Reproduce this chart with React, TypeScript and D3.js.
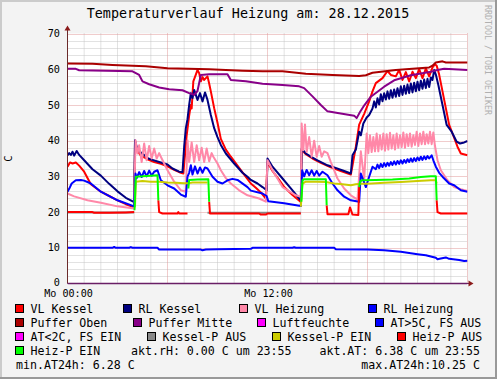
import React from 'react';
import * as d3 from 'd3';

type Pt = [number, number] | null;

// ---- DATA (hour of day, °C) ----
const vlKessel: Pt[] = [
  [0, 32.7], [0.15, 33.9], [0.3, 33.6], [0.5, 33.9], [0.7, 33.0], [1.0, 31.3], [1.4, 27.8], [2.0, 25.7],
  [2.5, 24.5], [3.0, 23.3], [3.5, 22.2], [4.0, 21.3], [4.05, 39.5], [4.15, 37.5], [4.4, 35.8], [4.8, 34.8],
  [5.2, 34.0], [5.6, 33.5], [6.0, 32.8], [6.4, 31.8], [6.8, 31.0], [6.95, 30.8], [7.05, 36], [7.15, 41.5],
  [7.3, 47], [7.4, 50], [7.45, 49], [7.55, 56.6], [7.7, 58.5], [7.8, 59.8], [7.9, 58.9], [8.0, 56.6],
  [8.1, 57.8], [8.2, 57.0], [8.3, 57.5], [8.4, 58.0], [8.5, 56], [8.6, 53.8], [8.8, 49.1], [9.0, 45],
  [9.2, 40.5], [9.5, 37.5], [9.8, 35.5], [10.2, 33.0], [10.6, 30.5], [11.0, 28.0], [11.3, 26.8], [11.6, 25.5],
  [11.9, 23.8], [12.0, 34.0], [12.3, 31.5], [12.7, 29.0], [13.0, 27.0], [13.5, 24.8], [14.0, 22.8],
  [14.05, 37.5], [14.3, 36.2], [14.7, 35.0], [15.2, 33.8], [15.8, 32.5], [16.4, 31.5], [17.0, 30.5],
  [17.1, 33], [17.3, 38.3], [17.5, 44.5], [17.8, 47.5], [18.1, 51.0], [18.3, 53.8], [18.5, 56.1],
  [18.9, 57.5], [19.2, 59.5], [19.4, 58.4], [19.7, 58.0], [19.9, 59.8], [20.1, 57.0], [20.3, 59.2],
  [20.5, 56.6], [20.7, 59.3], [20.9, 57.5], [21.1, 60], [21.3, 57.5], [21.5, 60.2], [21.7, 58],
  [21.9, 60.5], [22.05, 61.4], [22.15, 61.0], [22.3, 58.5], [22.5, 53.8], [22.7, 49.1], [22.9, 44.4],
  [23.1, 42.0], [23.4, 38.3], [23.6, 36.4], [24.0, 35.9],
];

const rlKessel: Pt[] = [
  [0, 35.9], [0.1, 36.5], [0.2, 36.0], [0.3, 36.9], [0.4, 35.8], [0.55, 37.1], [0.7, 36.0], [1.0, 34.5],
  [1.5, 32.0], [2.0, 30.2], [2.5, 27.9], [3.0, 25.8], [3.5, 24.0], [4.0, 22.8], [4.05, 40.1], [4.15, 38.3],
  [4.3, 37.2], [4.45, 36.4], [4.6, 36.0], [4.85, 35.0], [5.1, 34.6], [5.5, 34.0], [6.0, 33.3], [6.3, 32.2],
  [6.7, 31.3], [6.9, 31.2], [7.0, 38.3], [7.1, 43.5], [7.2, 46], [7.3, 50.0], [7.4, 53.3], [7.5, 51.9],
  [7.6, 54.2], [7.8, 51.4], [7.95, 53.3], [8.1, 51.0], [8.25, 53.5], [8.4, 51.4], [8.6, 47.2], [8.8, 43.5],
  [9.0, 41.0], [9.2, 38.8], [9.5, 36.4], [10.0, 33.6], [10.5, 31.0], [10.8, 29.9], [11.0, 29.0],
  [11.4, 28.0], [11.7, 27.0], [11.95, 26.1], [12.0, 35.0], [12.3, 32.7], [12.9, 29.4], [13.5, 26.1],
  [13.9, 23.8], [14.0, 23.3], [14.05, 37.8], [14.3, 36.4], [14.6, 35.5], [15.0, 34.5], [15.6, 33.1],
  [16.0, 32.5], [16.6, 31.5], [17.0, 30.8], [17.1, 35.9], [17.3, 37.5], [17.5, 42.5], [17.6, 41.5],
  [17.75, 44.8], [17.95, 46.5], [18.1, 47.2], [18.3, 49.0], [18.4, 51.0], [18.5, 49.3], [18.6, 51.9],
  [18.7, 50.1], [18.8, 53.0], [18.9, 51.0], [19.0, 53.3], [19.1, 51.5], [19.2, 53.8], [19.3, 51.7],
  [19.4, 54.1], [19.5, 52.0], [19.6, 54.3], [19.7, 52.3], [19.8, 54.7], [19.9, 52.5], [20.0, 55.2],
  [20.1, 52.8], [20.2, 55.4], [20.3, 53.1], [20.4, 55.7], [20.5, 53.3], [20.6, 56.0], [20.7, 53.5],
  [20.8, 56.2], [20.9, 53.8], [21.0, 56.5], [21.1, 54.1], [21.2, 56.8], [21.3, 54.5], [21.4, 57.1],
  [21.5, 54.7], [21.6, 57.3], [21.7, 55.0], [21.8, 57.7], [21.9, 57.0], [22.0, 59.8], [22.1, 58.5],
  [22.25, 55.6], [22.5, 50.0], [22.75, 44.4], [23.05, 42.5], [23.35, 39.7], [23.55, 39.2], [23.8, 39.5],
  [24.0, 39.9],
];

const vlHeizung: Pt[] = [
  [0, 25.2], [0.4, 24.4], [1.2, 23.3], [2.0, 22.6], [3.0, 21.6], [4.0, 21.0], [4.08, 40.1], [4.2, 36.4],
  [4.3, 38.7], [4.45, 34.0], [4.6, 39.2], [4.75, 34.5], [4.9, 38.5], [5.05, 35.0], [5.2, 37.8], [5.35, 35.0],
  [5.5, 36.5], [5.6, 35.5], [6.0, 31.7], [6.4, 28.5], [6.8, 26.1], [7.1, 25.7], [7.2, 40.1], [7.3, 34.0],
  [7.45, 39.5], [7.6, 34.0], [7.75, 38.7], [7.9, 34.5], [8.05, 38.0], [8.2, 34.0], [8.35, 37.8], [8.5, 34.2],
  [8.65, 36.5], [8.75, 35.5], [9.0, 33.6], [9.2, 31.7], [9.5, 29.5], [9.8, 28.0], [10.3, 26.1],
  [10.8, 24.7], [11.5, 23.8], [11.9, 22.9], [12.0, 34.5], [12.3, 31.7], [12.9, 27.0], [13.7, 24.7],
  [14.0, 24.3], [14.05, 44.8], [14.15, 37.3], [14.25, 44.5], [14.35, 36.8], [14.5, 41.0], [14.65, 35.5],
  [14.8, 40.0], [14.95, 35.5], [15.1, 38.5], [15.25, 35.5], [15.4, 37.0], [15.6, 36.5], [15.8, 34.0],
  [16.2, 29.4], [16.6, 26.6], [17.0, 24.7], [17.4, 23.5], [17.6, 37.0], [17.8, 29.0], [17.95, 42.0],
  [18.05, 36.5], [18.15, 41.5], [18.25, 36.8], [18.35, 41.0], [18.45, 37.0], [18.55, 42.0], [18.65, 37.0],
  [18.75, 41.5], [18.85, 37.5], [18.95, 42.0], [19.05, 37.2], [19.15, 41.8], [19.25, 37.5], [19.35, 42.2],
  [19.45, 37.8], [19.55, 41.5], [19.65, 37.5], [19.75, 42.0], [19.85, 38.0], [19.95, 41.5], [20.05, 38.2],
  [20.15, 42.3], [20.25, 38.0], [20.35, 41.8], [20.45, 38.5], [20.55, 42.0], [20.65, 38.3], [20.75, 41.5],
  [20.85, 38.8], [20.95, 42.5], [21.05, 38.5], [21.15, 42.0], [21.25, 39.0], [21.35, 42.5], [21.45, 39.0],
  [21.55, 41.8], [21.65, 39.2], [21.75, 42.5], [21.85, 39.0], [21.95, 42.3], [22.05, 38.5], [22.2, 34.5],
  [22.4, 31.7], [22.8, 28.9], [23.2, 27.0], [23.6, 26.4], [24.0, 25.9],
];

const rlHeizung: Pt[] = [
  [0, 25.7], [0.1, 26.5], [0.25, 28.0], [0.5, 28.9], [0.8, 29.0], [1.0, 28.8], [1.4, 28.0], [2.0, 25.7],
  [3.0, 23.3], [4.0, 21.6], [4.08, 30.8], [4.15, 29.5], [4.3, 31.2], [4.45, 29.8], [4.6, 31.5], [4.75, 30.0],
  [4.9, 31.6], [5.05, 30.2], [5.2, 31.3], [5.4, 31.7], [5.6, 28.9], [6.0, 27.5], [6.4, 26.6], [6.8, 24.9],
  [7.1, 24.3], [7.2, 29.9], [7.3, 31.0], [7.4, 33.1], [7.5, 30.5], [7.65, 32.8], [7.8, 30.8], [7.95, 32.5],
  [8.1, 31.0], [8.25, 32.5], [8.4, 32.2], [8.7, 29.9], [9.0, 28.5], [9.3, 28.0], [9.6, 28.9], [9.9, 29.3],
  [10.2, 29.0], [10.8, 27.0], [11.0, 26.0], [11.7, 25.2], [11.95, 24.5], [12.05, 23.0], [13.0, 22.5],
  [14.0, 21.7], [14.08, 31.7], [14.2, 30.0], [14.35, 31.8], [14.5, 30.3], [14.65, 31.7], [14.8, 30.2],
  [14.95, 31.5], [15.1, 30.2], [15.3, 31.3], [15.6, 30.3], [15.9, 28.0], [16.2, 26.1], [16.6, 24.3],
  [17.0, 23.3], [17.5, 22.9], [17.6, 30.8], [17.9, 27.0], [18.1, 29.9], [18.3, 32.7], [18.5, 32.0],
  [18.6, 33.3], [18.7, 32.3], [18.8, 33.5], [18.9, 32.6], [19.0, 33.7], [19.1, 32.8], [19.2, 33.8],
  [19.3, 33.0], [19.4, 34.0], [19.5, 33.2], [19.6, 34.2], [19.7, 33.3], [19.8, 34.3], [19.9, 33.5],
  [20.0, 34.5], [20.1, 33.6], [20.2, 34.6], [20.3, 33.8], [20.4, 34.8], [20.5, 34.0], [20.6, 35.0],
  [20.7, 34.1], [20.8, 35.1], [20.9, 34.3], [21.0, 35.3], [21.1, 34.5], [21.2, 35.5], [21.3, 34.6],
  [21.4, 35.6], [21.5, 34.8], [21.6, 35.7], [21.7, 35.0], [21.85, 35.9], [21.95, 34.5], [22.1, 32.7],
  [22.3, 31.0], [22.5, 29.9], [22.9, 28.0], [23.2, 27.5], [23.6, 26.1], [24.0, 25.7],
];

const pufferOben: Pt[] = [
  [0, 61.6], [1.5, 61.5], [2.7, 61.2], [4.7, 60.8], [6.0, 60.3], [8.5, 60.0], [10.5, 59.6], [11.7, 59.4],
  [12.9, 59.4], [14.3, 58.7], [15.9, 58.4], [17.5, 58.1], [17.9, 58.3], [18.3, 59.0], [19.7, 59.8],
  [21.7, 60.5], [21.9, 61.0], [22.1, 61.9], [22.5, 62.2], [22.7, 61.9], [24, 61.9],
];

const pufferMitte: Pt[] = [
  [0, 60.1], [0.5, 60.1], [0.7, 59.7], [3.9, 59.4], [4.3, 58.4], [4.5, 56.6], [4.9, 55.8], [5.5, 54.9],
  [6.1, 54.4], [6.9, 54.1], [7.3, 53.3], [7.6, 52.8], [7.8, 53.9], [8.0, 58.4], [8.5, 58.6], [9.6, 58.6],
  [9.8, 57.0], [10.7, 56.6], [11.7, 55.9], [12.9, 55.6], [13.9, 55.2], [14.2, 54.7], [14.7, 52.4],
  [15.2, 50.0], [15.6, 48.2], [16.3, 47.7], [17.2, 47.0], [17.35, 46.3], [17.55, 48.0], [17.75, 49.5],
  [18.2, 52.3], [19.0, 55.1], [19.6, 56.9], [20.6, 58.3], [21.8, 59.3], [22.2, 59.8], [22.6, 60.1],
  [24, 59.8],
];

const aussenTemp: Pt[] = [
  [0, 10.0], [2.7, 10.0], [2.8, 10.25], [2.9, 10.0], [3.7, 10.0], [3.8, 10.2], [3.9, 10.0], [5.4, 10.0],
  [5.5, 9.5], [8.0, 9.5], [8.1, 9.3], [8.3, 9.5], [9.0, 9.6], [11.0, 9.7], [11.1, 10.0], [13.5, 10.0],
  [13.6, 10.15], [13.7, 10.0], [16.0, 10.0], [16.1, 9.6], [18.0, 9.5], [19.0, 9.3], [20.0, 8.9],
  [21.0, 8.2], [21.5, 7.9], [22.1, 7.2], [22.2, 6.8], [22.4, 7.0], [22.7, 7.3], [22.9, 6.9], [23.5, 6.6],
  [23.8, 6.3], [24, 6.4],
];

const luftfeuchte: Pt[] = [[0, 0], [24, 0]];

const kesselPAus: Pt[] = [
  [0, 19.9], [4.0, 19.9], null, [8.4, 19.8], [14.0, 19.8],
];

const kesselPEin: Pt[] = [
  [4.05, 21.5], [4.1, 28.5], [4.5, 28.7], [5.0, 28.5], [5.5, 28.5], [6.0, 28.3], [6.5, 28.2], [7.0, 28.1],
  [7.3, 28.1], [7.5, 28.3], [8.0, 28.3], [8.4, 28.3], null,
  [14.0, 21.5], [14.1, 28.0], [14.3, 28.5], [15.0, 28.5], [15.5, 28.4], [16.0, 28.0], [16.5, 27.8],
  [17.0, 27.5], [17.3, 27.8], [17.6, 27.9], [18.0, 27.9], [19.0, 28.2], [20.0, 28.4], [21.0, 28.7],
  [21.8, 28.9], [22.1, 28.9], [22.15, 28.0],
];

const heizPAus: Pt[] = [
  [0, 20.0], [1.5, 20.0], [1.6, 19.8], [2.5, 19.8], [3.5, 19.9], [4.0, 20.0], null,
  [5.45, 23.3], [5.5, 20.0], [5.7, 19.6], [6.6, 19.6], [6.65, 20.0], [6.7, 19.6], [7.2, 19.6], null,
  [8.5, 22.9], [8.55, 19.6], [11.5, 19.6], [11.6, 19.3], [11.9, 19.3], [12.0, 19.6], [14.0, 19.6], null,
  [15.55, 21.9], [15.6, 19.4], [16.85, 19.4], [16.95, 21.3], [17.1, 19.3], [17.45, 19.2], [17.5, 27.0], null,
  [22.15, 23.3], [22.2, 20.0], [22.4, 19.6], [24, 19.6],
];

const heizPEin: Pt[] = [
  [4.02, 20.5], [4.1, 29.9], [4.5, 30.0], [5.0, 30.2], [5.4, 30.3], [5.45, 23.3], null,
  [7.25, 26.6], [7.3, 29.0], [7.8, 29.1], [8.45, 29.2], [8.5, 22.9], null,
  [14.03, 22.9], [14.1, 28.9], [14.2, 29.2], [15.5, 29.2], [15.55, 21.9], null,
  [17.5, 27.0], [17.55, 28.5], [17.65, 28.9], [18.5, 29.0], [19.5, 29.1], [20.5, 29.4], [21.2, 29.8],
  [21.8, 30.0], [22.1, 30.0], [22.15, 23.3],
];

const yTicks = [0, 10, 20, 30, 40, 50, 60, 70];
const xLabelHours = [0, 12];
const xLabelTexts = ['Mo 00:00', 'Mo 12:00'];

const legendNames = [
  'VL Kessel', 'RL Kessel', 'VL Heizung', 'RL Heizung',
  'Puffer Oben', 'Puffer Mitte', 'Luftfeuchte', 'AT>5C, FS AUS',
  'AT<2C, FS EIN', 'Kessel-P AUS', 'Kessel-P EIN', 'Heiz-P AUS',
  'Heiz-P EIN',
];
const legendColors = [
  '#FF0000', '#000080', '#FF88A8', '#0000FF',
  '#AA0000', '#880088', '#FF00FF', '#0000FF',
  '#FF00FF', '#888888', '#CCCC00', '#FF0000',
  '#00FF00',
];
const legendX = [
  15, 123, 239, 368,
  15, 133, 257, 375,
  15, 147, 272, 397,
  15,
];
const legendRow = [0, 0, 0, 0, 1, 1, 1, 1, 2, 2, 2, 2, 3];

const title = 'Temperaturverlauf Heizung am: 28.12.2015';
const statusTexts = ['akt.rH: 0.00 C um 23:55', 'akt.AT: 6.38 C um 23:55', 'min.AT24h: 6.28 C', 'max.AT24h:10.25 C'];

// draw order = rrdtool order
const seriesOrder: { data: Pt[]; color: string }[] = [
  { data: vlKessel, color: '#FF0000' },
  { data: rlKessel, color: '#000080' },
  { data: vlHeizung, color: '#FF88A8' },
  { data: rlHeizung, color: '#0000FF' },
  { data: pufferOben, color: '#AA0000' },
  { data: pufferMitte, color: '#880088' },
  { data: aussenTemp, color: '#0000FF' },
  { data: kesselPAus, color: '#888888' },
  { data: kesselPEin, color: '#CCCC00' },
  { data: heizPAus, color: '#FF0000' },
  { data: heizPEin, color: '#00FF00' },
];

const W = 497;
const H = 379;
const PL = 67.5, PR = 467.5, PT = 33.5, PB = 283.5;
const MONO = '"DejaVu Sans Mono", monospace';

export default function App() {
  const xs = d3.scaleLinear().domain([0, 24]).range([PL, PR]);
  const ys = d3.scaleLinear().domain([0, 70]).range([PB, PT]);
  const line = d3
    .line<Pt>()
    .defined((d) => d !== null)
    .x((d) => xs((d as [number, number])[0]))
    .y((d) => ys((d as [number, number])[1]));

  const minorH = d3.range(0, 71, 2).filter((v) => v % 10 !== 0);
  const majorH = d3.range(10, 71, 10);
  const minorV = d3.range(1, 24).filter((h) => h % 6 !== 0);
  const majorV = [6, 12, 18, 24];
  const rowY = [309, 323, 337, 351, 365];

  return (
    <div style={{ position: 'absolute', left: 0, top: 0 }}>
      <svg width={W} height={H} style={{ display: 'block' }}>
        <rect x={0} y={0} width={W} height={H} fill="#F3F3F3" />
        <line x1={0} y1={1} x2={W} y2={1} stroke="#CBCBCB" strokeWidth={2} />
        <line x1={1} y1={0} x2={1} y2={H} stroke="#CBCBCB" strokeWidth={2} />
        <line x1={0} y1={H - 1} x2={W} y2={H - 1} stroke="#999999" strokeWidth={2} />
        <line x1={W - 1} y1={0} x2={W - 1} y2={H} stroke="#999999" strokeWidth={2} />

        <rect x={PL} y={PT} width={PR - PL} height={PB - PT} fill="#FFFFFF" />

        {minorH.map((v) => (
          <line key={'mh' + v} x1={PL} x2={PR} y1={Math.round(ys(v)) + 0.5} y2={Math.round(ys(v)) + 0.5}
            stroke="#C4C4C4" strokeWidth={1} strokeDasharray="1 1" />
        ))}
        {minorV.map((h) => (
          <line key={'mv' + h} y1={PT} y2={PB} x1={xs(h)} x2={xs(h)}
            stroke="#C4C4C4" strokeWidth={1} strokeDasharray="1 1" />
        ))}
        {majorH.map((v) => (
          <line key={'Mh' + v} x1={PL} x2={PR} y1={Math.round(ys(v)) + 0.5} y2={Math.round(ys(v)) + 0.5}
            stroke="#E09898" strokeWidth={1} strokeDasharray="1 1" />
        ))}
        {majorV.map((h) => (
          <line key={'Mv' + h} y1={PT} y2={PB} x1={xs(h)} x2={xs(h)}
            stroke="#E09898" strokeWidth={1} strokeDasharray="1 1" />
        ))}

        <defs>
          <clipPath id="plotclip">
            <rect x={PL} y={PT - 2} width={PR - PL} height={PB - PT + 4} />
          </clipPath>
        </defs>
        <g clipPath="url(#plotclip)">
          {seriesOrder.map((s, i) => (
            <path key={'s' + i} d={line(s.data) || ''} fill="none" stroke={s.color} strokeWidth={2}
              strokeLinejoin="round" />
          ))}
          <path d={line(luftfeuchte) || ''} fill="none" stroke="#6A1F66" strokeWidth={1.5} />
        </g>

        {/* axes */}
        <line x1={PL} x2={PL} y1={PB} y2={PT - 4} stroke="#6B2A2A" strokeWidth={1} />
        <line x1={PL} x2={PR + 3} y1={PB} y2={PB} stroke="#6A1F66" strokeWidth={1} />
        <path d={`M${PL - 3},${PT - 3} L${PL + 3},${PT - 3} L${PL},${PT - 8} Z`} fill="#8B1A1A" />
        <path d={`M${PR + 1},${PB - 3} L${PR + 1},${PB + 3} L${PR + 6},${PB} Z`} fill="#8B1A1A" />

        {yTicks.map((v) => (
          <text key={'yt' + v} x={60} y={ys(v) - (v === 0 ? 1 : 0)} dy="0.36em" textAnchor="end" fontFamily={MONO}
            fontSize={10.2} fill="#000">{v}</text>
        ))}
        {xLabelHours.map((h, i) => (
          <text key={'xl' + h} x={xs(h) + 1} y={296.5} textAnchor="middle" fontFamily={MONO}
            fontSize={10.1} fill="#000">{xLabelTexts[i]}</text>
        ))}

        <text x={248} y={18} textAnchor="middle" fontFamily={MONO} fontSize={13.4} fill="#000">{title}</text>
        <text transform={`translate(12,${(PT + PB) / 2}) rotate(-90)`} textAnchor="middle" fontFamily={MONO}
          fontSize={10.5} fill="#000">C</text>
        <text transform={`translate(485,5) rotate(90)`} textAnchor="start" fontFamily={MONO}
          fontSize={8.3} fill="#B0B0B0">RRDTOOL / TOBI OETIKER</text>

        {legendNames.map((n, i) => {
          const cy = rowY[legendRow[i]];
          return (
            <g key={'lg' + i}>
              <rect x={legendX[i] + 0.5} y={cy - 4.5} width={8} height={8} fill={legendColors[i]}
                stroke="#000" strokeWidth={1} />
              <text x={legendX[i] + 15.5} y={cy} dy="0.36em" fontFamily={MONO} fontSize={11.6} fill="#000">{n}</text>
            </g>
          );
        })}
        <text x={131} y={rowY[3]} dy="0.36em" fontFamily={MONO} fontSize={11.6} fill="#000">{statusTexts[0]}</text>
        <text x={480} y={rowY[3]} dy="0.36em" textAnchor="end" fontFamily={MONO} fontSize={11.6} fill="#000">{statusTexts[1]}</text>
        <text x={16} y={rowY[4]} dy="0.36em" fontFamily={MONO} fontSize={11.6} fill="#000">{statusTexts[2]}</text>
        <text x={480} y={rowY[4]} dy="0.36em" textAnchor="end" fontFamily={MONO} fontSize={11.6} fill="#000">{statusTexts[3]}</text>
      </svg>
    </div>
  );
}
